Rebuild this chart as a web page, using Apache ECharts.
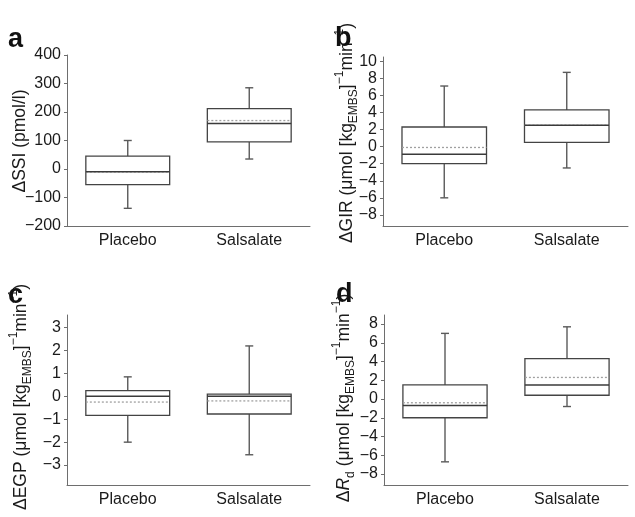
<!DOCTYPE html>
<html>
<head>
<meta charset="utf-8">
<script src="https://cdn.jsdelivr.net/npm/echarts@6/dist/echarts.min.js"></script>
<style>html,body{margin:0;padding:0;background:#fff;}#c{width:635px;height:517px;}</style>
</head>
<body>
<div id="c"></div>
<script>
// Categories
const categories = ['Placebo', 'Salsalate'];
// Each row: [whiskerLow, Q1, median, Q3, whiskerHigh, mean]
const ssiPlacebo = [-138, -55, -10, 45, 100, -10];
const ssiSalsalate = [35, 95, 160, 212, 285, 170];
const girPlacebo = [-6.0, -2.0, -0.9, 2.3, 7.1, -0.1];
const girSalsalate = [-2.5, 0.5, 2.5, 4.3, 8.7, 2.5];
const egpPlacebo = [-2.0, -0.83, 0.0, 0.25, 0.85, -0.25];
const egpSalsalate = [-2.55, -0.77, 0.0, 0.1, 2.2, -0.2];
const rdPlacebo = [-6.7, -2.0, -0.7, 1.5, 7.0, -0.4];
const rdSalsalate = [-0.8, 0.4, 1.5, 4.3, 7.7, 2.3];
// Tick labels
const ssiTicks = [-200, -100, 0, 100, 200, 300, 400];
const girTicks = [-8, -6, -4, -2, 0, 2, 4, 6, 8, 10];
const egpTicks = [-3, -2, -1, 0, 1, 2, 3];
const rdTicks = [-8, -6, -4, -2, 0, 2, 4, 6, 8];

const FONT = '"Liberation Sans", Arial, Helvetica, sans-serif';
const TXT = '#1a1a1a';
const AXIS = '#6e6e6e';

const grids = [
  {left: 67, top: 55, width: 243, height: 171},
  {left: 383, top: 57, width: 245, height: 169},
  {left: 67, top: 315, width: 243, height: 170},
  {left: 384, top: 315, width: 244, height: 170}
];
const yRanges = [[-200, 400], [-9.3, 10.5], [-3.87, 3.55], [-9.17, 8.96]];
const tickSets = [ssiTicks, girTicks, egpTicks, rdTicks];
const panelData = [
  [ssiPlacebo, ssiSalsalate],
  [girPlacebo, girSalsalate],
  [egpPlacebo, egpSalsalate],
  [rdPlacebo, rdSalsalate]
];

function renderBox(params, api) {
  const ci = api.value(0);
  const lo = api.value(1), q1 = api.value(2), med = api.value(3),
        q3 = api.value(4), hi = api.value(5), mean = api.value(6);
  const cx = api.coord([ci, med])[0];
  const band = api.size([1, 0])[0];
  const w = band * 0.69;
  const yLo = api.coord([ci, lo])[1];
  const yQ1 = api.coord([ci, q1])[1];
  const yMed = api.coord([ci, med])[1];
  const yQ3 = api.coord([ci, q3])[1];
  const yHi = api.coord([ci, hi])[1];
  const yMean = api.coord([ci, mean])[1];
  const capW = 4;
  const wStyle = {stroke: '#5a5a5a', lineWidth: 1.4};
  return {
    type: 'group',
    children: [
      {type: 'line', shape: {x1: cx, y1: yQ3, x2: cx, y2: yHi}, style: wStyle},
      {type: 'line', shape: {x1: cx - capW, y1: yHi, x2: cx + capW, y2: yHi}, style: wStyle},
      {type: 'line', shape: {x1: cx, y1: yQ1, x2: cx, y2: yLo}, style: wStyle},
      {type: 'line', shape: {x1: cx - capW, y1: yLo, x2: cx + capW, y2: yLo}, style: wStyle},
      {type: 'rect', shape: {x: cx - w / 2, y: yQ3, width: w, height: yQ1 - yQ3},
        style: {fill: '#fff', stroke: '#444', lineWidth: 1.3}},
      {type: 'line', shape: {x1: cx - w / 2, y1: yMean, x2: cx + w / 2, y2: yMean},
        style: {stroke: '#a0a0a0', lineWidth: 1.3, lineDash: [2, 2]}},
      {type: 'line', shape: {x1: cx - w / 2, y1: yMed, x2: cx + w / 2, y2: yMed},
        style: {stroke: '#3a3a3a', lineWidth: 1.5}}
    ]
  };
}

const option = {
  animation: false,
  backgroundColor: '#fff',
  grid: grids,
  xAxis: grids.map((g, i) => ({
    type: 'category', gridIndex: i, data: categories,
    axisLine: {onZero: false, lineStyle: {color: AXIS, width: 1}},
    axisTick: {show: false},
    axisLabel: {fontFamily: FONT, fontSize: 16, color: TXT, margin: 7}
  })),
  yAxis: grids.map((g, i) => ({
    type: 'value', gridIndex: i, min: yRanges[i][0], max: yRanges[i][1],
    splitLine: {show: false},
    axisLine: {show: true, onZero: false, lineStyle: {color: AXIS, width: 1}},
    axisTick: {show: true, length: 3, customValues: tickSets[i], lineStyle: {color: AXIS}},
    axisLabel: {fontFamily: FONT, fontSize: 16, color: TXT, margin: 6,
      customValues: tickSets[i],
      formatter: v => String(v).replace('-', '\u2212')}
  })),
  series: panelData.map((pd, i) => ({
    type: 'custom', xAxisIndex: i, yAxisIndex: i,
    renderItem: renderBox,
    encode: {x: 0, y: [1, 2, 3, 4, 5, 6]},
    data: pd.map((row, ci) => [ci].concat(row))
  })),
  graphic: []
};

const richStyles = {
  n: {fontFamily: FONT, fontSize: 17.5, lineHeight: 26, fill: TXT, verticalAlign: 'middle'},
  it: {fontFamily: FONT, fontSize: 17.5, lineHeight: 26, fill: TXT, fontStyle: 'italic', verticalAlign: 'middle'},
  sup: {fontFamily: FONT, fontSize: 12, lineHeight: 12, fill: TXT, verticalAlign: 'top'},
  sub: {fontFamily: FONT, fontSize: 12, lineHeight: 12, fill: TXT, verticalAlign: 'bottom'}
};
const unitTail = '{n|(\u03bcmol [kg}{sub|EMBS}{n|]}{sup|\u22121}{n|min}{sup|\u22121}{n|)}';
const axisNames = [
  {text: '{n|\u0394SSI (pmol/l)}', x: 20, y: 141},
  {text: '{n|\u0394GIR }' + unitTail, x: 347, y: 133},
  {text: '{n|\u0394EGP }' + unitTail, x: 21, y: 397},
  {text: '{n|\u0394}{it|R}{sub|d}{n| }' + unitTail, x: 344, y: 398}
];
axisNames.forEach(a => {
  option.graphic.push({
    type: 'text', x: a.x, y: a.y, rotation: Math.PI / 2,
    style: {text: a.text, rich: richStyles, align: 'center', verticalAlign: 'middle'}
  });
});
const letters = [
  {t: 'a', x: 8, y: 26}, {t: 'b', x: 335, y: 25},
  {t: 'c', x: 8, y: 282}, {t: 'd', x: 336, y: 281}
];
letters.forEach(l => {
  option.graphic.push({
    type: 'text', x: l.x, y: l.y,
    style: {text: l.t, fontFamily: FONT, fontSize: 27, fontWeight: 'bold', fill: '#111',
      align: 'left', verticalAlign: 'alphabetic'}
  });
});

const chart = echarts.init(document.getElementById('c'), null, {renderer: 'canvas'});
chart.setOption(option);
</script>
</body>
</html>
